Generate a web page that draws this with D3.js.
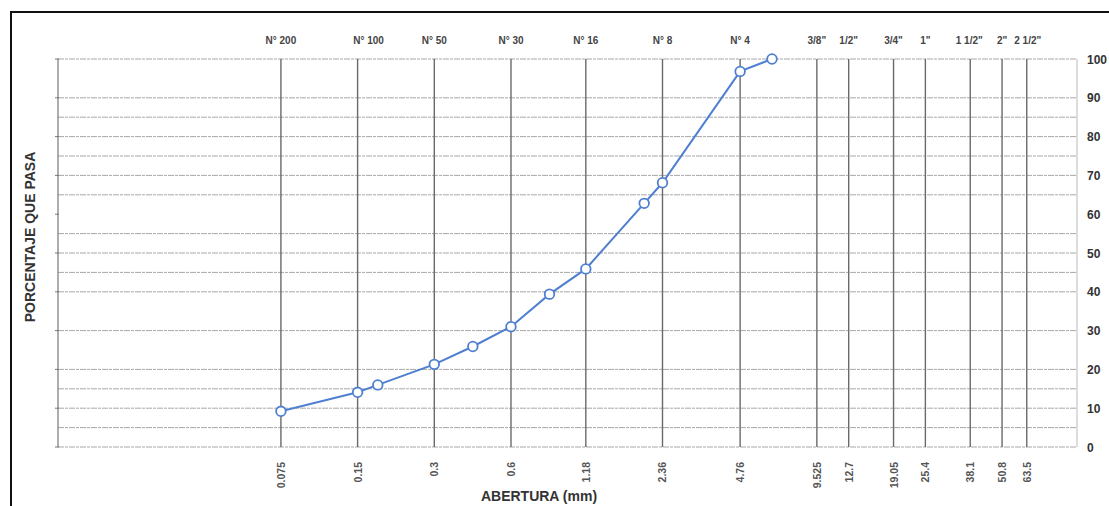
<!DOCTYPE html>
<html>
<head>
<meta charset="utf-8">
<script src="https://cdnjs.cloudflare.com/ajax/libs/d3/7.8.5/d3.min.js"></script>
<style>
  html, body { margin: 0; padding: 0; background: #fff; }
  svg { display: block; }
  text { font-family: "Liberation Sans", Arial, sans-serif; }
</style>
</head>
<body>
<div id="chart"></div>
<script>
// ---- data ----
const sieveSizes = [0.075, 0.15, 0.3, 0.6, 1.18, 2.36, 4.76, 9.525, 12.7, 19.05, 25.4, 38.1, 50.8, 63.5];
const sieveSizeLabels = ["0.075", "0.15", "0.3", "0.6", "1.18", "2.36", "4.76", "9.525", "12.7", "19.05", "25.4", "38.1", "50.8", "63.5"];
const sieveNames = ["N° 200", "N° 100", "N° 50", "N° 30", "N° 16", "N° 8", "N° 4", "3/8\"", "1/2\"", "3/4\"", "1\"", "1 1/2\"", "2\"", "2 1/2\""];
const openings = [0.075, 0.15, 0.18, 0.3, 0.425, 0.6, 0.85, 1.18, 2.0, 2.36, 4.76, 6.35];
const passing = [9.2, 14.1, 16.0, 21.3, 25.9, 31.0, 39.4, 45.9, 62.8, 68.1, 96.8, 100];
const yTicks = [0, 10, 20, 30, 40, 50, 60, 70, 80, 90, 100];
const hGrid = [0, 5, 10, 15, 20, 30, 40, 45, 50, 55, 65, 70, 75, 80, 85, 90, 100];

// ---- layout ----
const W = 1109, H = 506;
const svg = d3.select("#chart").append("svg").attr("width", W).attr("height", H);

const x = d3.scaleLog().domain([0.01, 100]).range([58, 1077]);
const y = d3.scaleLinear().domain([0, 100]).range([447, 59]);

// outer frame
svg.append("rect").attr("x", 11).attr("y", 12).attr("width", 1120).attr("height", 520)
  .attr("fill", "none").attr("stroke", "#111").attr("stroke-width", 2);

// horizontal grid
svg.append("g").selectAll("line").data(hGrid).join("line")
  .attr("x1", x.range()[0]).attr("x2", x.range()[1])
  .attr("y1", d => y(d)).attr("y2", d => y(d))
  .attr("stroke", "#a8a8a8").attr("stroke-width", 1)
  .attr("stroke-dasharray", "6,1,3,1");

// plot borders (left and right)
svg.append("line").attr("x1", x.range()[0]).attr("x2", x.range()[0]).attr("y1", y(100)).attr("y2", y(0))
  .attr("stroke", "#777").attr("stroke-width", 1.2);
svg.append("line").attr("x1", x.range()[1]).attr("x2", x.range()[1]).attr("y1", y(100)).attr("y2", y(0))
  .attr("stroke", "#bbb").attr("stroke-width", 1);

// left small ticks
svg.append("g").selectAll("line").data(yTicks).join("line")
  .attr("x1", x.range()[0] - 3).attr("x2", x.range()[0] + 1)
  .attr("y1", d => y(d)).attr("y2", d => y(d))
  .attr("stroke", "#777").attr("stroke-width", 1);

// vertical sieve lines
svg.append("g").selectAll("line").data(sieveSizes).join("line")
  .attr("x1", d => x(d)).attr("x2", d => x(d))
  .attr("y1", y(100)).attr("y2", y(0))
  .attr("stroke", "#6a6a6a").attr("stroke-width", 1.4);

// top sieve names
const nameDx = [0, 11, 0, 0, 0, 0, 0, 0, 0, 0, 0, -1, 0, 1];
svg.append("g").selectAll("text").data(sieveNames).join("text")
  .attr("x", (d, i) => x(sieveSizes[i]) + nameDx[i])
  .attr("y", 44)
  .attr("text-anchor", "middle")
  .attr("font-size", 10).attr("font-weight", "bold").attr("fill", "#444")
  .text(d => d);

// bottom size labels (rotated)
svg.append("g").selectAll("text").data(sieveSizeLabels).join("text")
  .attr("transform", (d, i) => `translate(${x(sieveSizes[i]) + 4},462) rotate(-90)`)
  .attr("text-anchor", "end")
  .attr("font-size", 10.5).attr("font-weight", "bold").attr("fill", "#555")
  .text(d => d);

// right y labels
svg.append("g").selectAll("text").data(yTicks).join("text")
  .attr("x", 1087).attr("y", d => y(d) + 4.5)
  .attr("font-size", 12).attr("font-weight", "bold").attr("fill", "#333")
  .text(d => d);

// axis titles
svg.append("text").attr("x", 539).attr("y", 501).attr("text-anchor", "middle")
  .attr("font-size", 14).attr("font-weight", "bold").attr("fill", "#333")
  .text("ABERTURA (mm)");
svg.append("text").attr("transform", "translate(35,237) rotate(-90)").attr("text-anchor", "middle")
  .attr("font-size", 14).attr("font-weight", "bold").attr("fill", "#333")
  .text("PORCENTAJE QUE PASA");

// curve
const pts = openings.map((d, i) => [d, passing[i]]);
svg.append("path").datum(pts)
  .attr("d", d3.line().x(d => x(d[0])).y(d => y(d[1])))
  .attr("fill", "none").attr("stroke", "#4f7fd0").attr("stroke-width", 2);
svg.append("g").selectAll("circle").data(pts).join("circle")
  .attr("cx", d => x(d[0])).attr("cy", d => y(d[1])).attr("r", 4.8)
  .attr("fill", "#fff").attr("stroke", "#4f7fd0").attr("stroke-width", 1.8);
</script>
</body>
</html>
